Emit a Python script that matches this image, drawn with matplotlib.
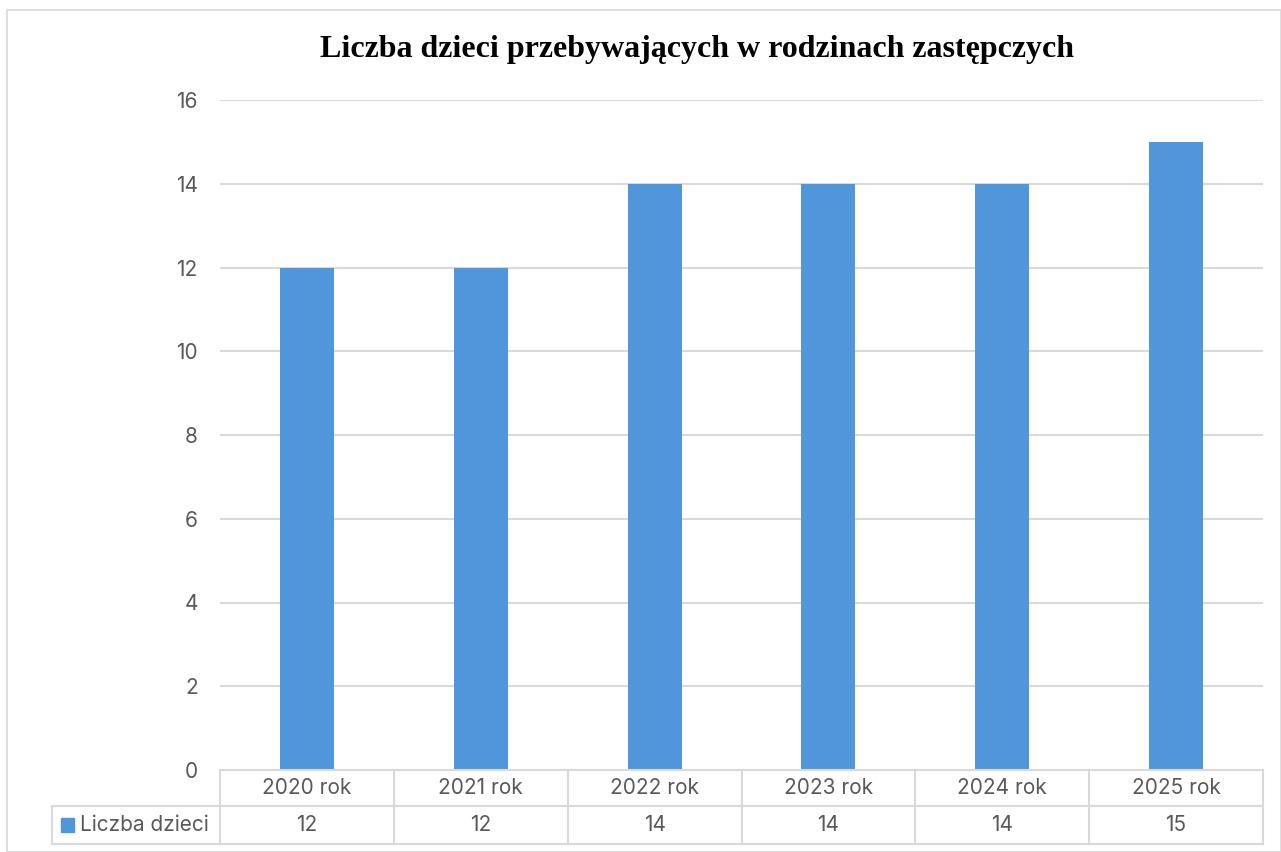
import matplotlib
matplotlib.use("Agg")
import matplotlib.pyplot as plt
from matplotlib.patches import Rectangle

title = "Liczba dzieci przebywających w rodzinach zastępczych"
years = ["2020 rok", "2021 rok", "2022 rok", "2023 rok", "2024 rok", "2025 rok"]
counts = [12, 12, 14, 14, 14, 15]
series_name = "Liczba dzieci"
yticks = [0, 2, 4, 6, 8, 10, 12, 14, 16]

W, H = 1281, 852
bar_color = "#4f96db"
grid_color = "#d9d9d9"
text_color = "#595959"
sans = ["Inter", "DejaVu Sans"]
fs = 15

fig = plt.figure(figsize=(W / 100, H / 100), dpi=100)

def px_box(x0, y0, x1, y1):
    # pixel box (top-left origin) -> figure fraction rect
    return [x0 / W, 1 - y1 / H, (x1 - x0) / W, (y1 - y0) / H]

# chart frame
fig.patches.append(Rectangle((7 / W, 0), 1 - 7 / W, 1 - 10 / H, transform=fig.transFigure,
                             fill=False, edgecolor=grid_color, linewidth=1.2))

ax = fig.add_axes(px_box(220, 100, 1263, 770))
x = range(len(years))
ax.bar(x, counts, width=0.31, color=bar_color, zorder=3)
ax.set_xlim(-0.5, len(years) - 0.5)
ax.set_ylim(0, 16)
ax.set_yticks(yticks)
ax.set_yticklabels([str(v) for v in yticks], fontsize=fs, color=text_color, family=sans)
ax.tick_params(axis="y", length=0, pad=16)
ax.set_xticks([])
ax.grid(axis="y", color=grid_color, linewidth=1.5, zorder=0)
for s in ax.spines.values():
    s.set_visible(False)

fig.text(697 / W, 1 - 50 / H, title, ha="center", va="center",
         fontsize=23, fontweight="bold", family=["Liberation Serif", "DejaVu Serif"])

# data table under the axis
lab_w = (220 - 52) / ((1263 - 220) / len(years))
tab = fig.add_axes(px_box(52, 770, 1263, 844))
tab.set_xlim(-0.5 - lab_w, len(years) - 0.5)
tab.set_ylim(0, 74)
tab.axis("off")
row_split = 74 - 36
lc = dict(color=grid_color, linewidth=1.5, clip_on=False)
tab.plot([-0.5, len(years) - 0.5], [74, 74], **lc)
tab.plot([-0.5 - lab_w, len(years) - 0.5], [row_split, row_split], **lc)
tab.plot([-0.5 - lab_w, len(years) - 0.5], [0, 0], **lc)
tab.plot([-0.5 - lab_w, -0.5 - lab_w], [0, row_split], **lc)
for i in range(len(years) + 1):
    tab.plot([i - 0.5, i - 0.5], [0, 74], **lc)
for i, (yr, c) in enumerate(zip(years, counts)):
    tab.text(i, (74 + row_split) / 2, yr, ha="center", va="center",
             fontsize=fs, color=text_color, family=sans)
    tab.text(i, row_split / 2, str(c), ha="center", va="center",
             fontsize=fs, color=text_color, family=sans)
tab.add_patch(Rectangle((-0.5 - lab_w + 0.05, row_split / 2 - 7), 0.075, 14,
                        color=bar_color, clip_on=False))
tab.text(-0.5 - lab_w + 0.16, row_split / 2, series_name, ha="left", va="center",
         fontsize=fs, color=text_color, family=sans)

fig.savefig("out.png", dpi=100)
